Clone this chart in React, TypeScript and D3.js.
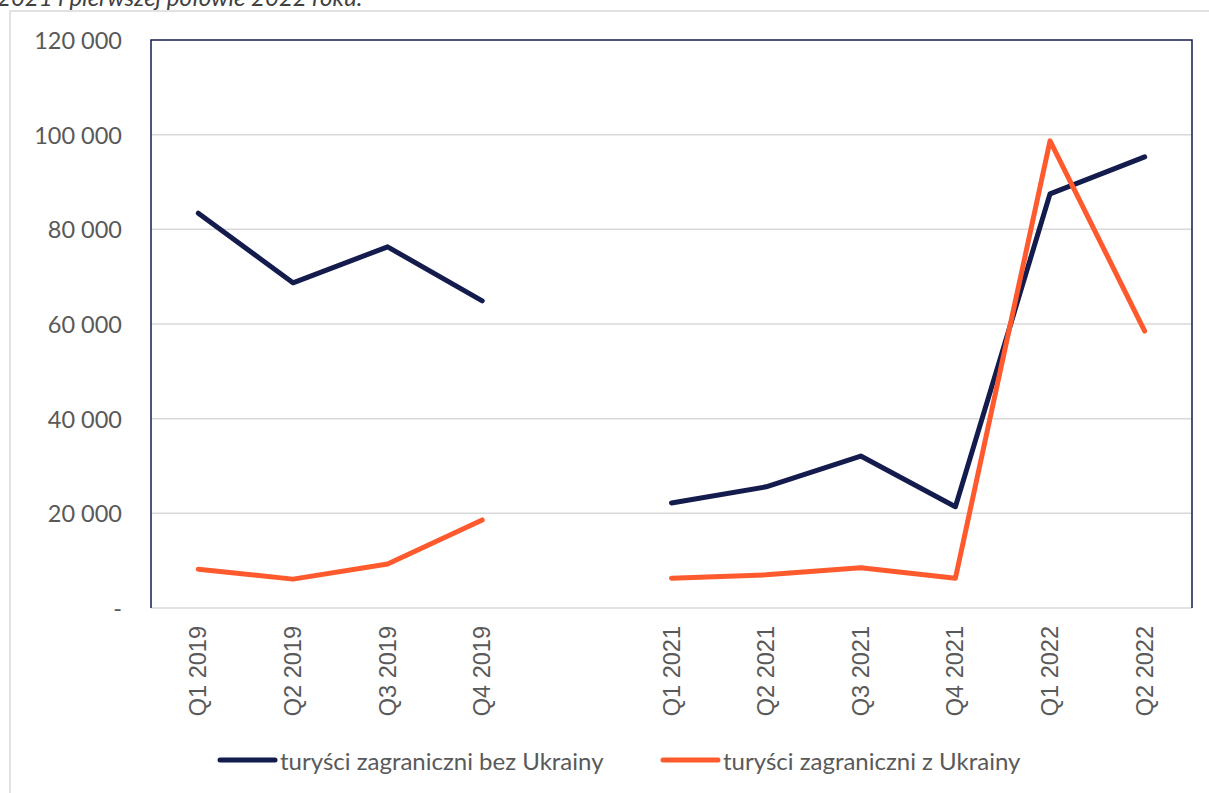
import * as d3 from 'd3';

const categories = [
  'Q1 2019', 'Q2 2019', 'Q3 2019', 'Q4 2019', '',
  'Q1 2021', 'Q2 2021', 'Q3 2021', 'Q4 2021', 'Q1 2022', 'Q2 2022',
];

// null = no data (gap in the line)
const bezUkrainy: (number | null)[] = [
  83400, 68700, 76300, 64900, null,
  22200, 25600, 32100, 21400, 87500, 95300,
];
const zUkrainy: (number | null)[] = [
  8200, 6100, 9300, 18600, null,
  6300, 7000, 8500, 6300, 98700, 58500,
];

const yTicks = [0, 20000, 40000, 60000, 80000, 100000, 120000];

const seriesNames = ['turyści zagraniczni bez Ukrainy', 'turyści zagraniczni z Ukrainy'];
const NAVY = '#141b4d';
const ORANGE = '#ff5a2d';

const fmt = (v: number) => (v === 0 ? '-' : d3.format(',')(v).replace(/,/g, ' '));

export default function App() {
  const width = 1209;
  const height = 793;
  const margin = { left: 151, right: 1192, top: 40, bottom: 608 };

  const x = d3
    .scaleBand()
    .domain(categories.map((c, i) => String(i)))
    .range([margin.left, margin.right]);
  const y = d3.scaleLinear().domain([0, 120000]).range([margin.bottom, margin.top]);

  const line = d3
    .line<number | null>()
    .defined((d) => d !== null)
    .x((_, i) => (x(String(i)) ?? 0) + x.bandwidth() / 2)
    .y((d) => y(d as number));

  const series = [
    { name: seriesNames[0], data: bezUkrainy, color: NAVY },
    { name: seriesNames[1], data: zUkrainy, color: ORANGE },
  ];

  const legendX = [220, 663];

  return (
    <div style={{ position: 'absolute', left: 0, top: 0 }}>
      <svg width={width} height={height} style={{ display: 'block', background: '#fff' }}>
        {/* caption cut off at top, as in the source */}
        <text
          x={-3}
          y={6}
          fontFamily='Lato'
          fontStyle='italic'
          fontSize={24}
          fill='#404040'
        >
          2021 i pierwszej połowie 2022 roku.
        </text>

        {/* outer chart frame */}
        <path d={`M10,${height + 5} V11 H${width + 5}`} fill='none' stroke='#d9d9d9' strokeWidth={1.5} />

        {/* gridlines */}
        {yTicks.slice(1, -1).map((t) => (
          <line key={t} x1={margin.left} x2={margin.right} y1={y(t)} y2={y(t)} stroke='#d9d9d9' strokeWidth={1.5} />
        ))}

        {/* plot frame: navy top/right/left, gray bottom */}
        <line x1={margin.left} x2={margin.right} y1={y(0)} y2={y(0)} stroke='#d9d9d9' strokeWidth={1.5} />
        <path
          d={`M${margin.left},${y(0)} V${margin.top} H${margin.right} V${y(0)}`}
          fill='none'
          stroke={NAVY}
          strokeWidth={1.5}
        />

        {/* y tick labels */}
        {yTicks.map((t) => (
          <text
            key={t}
            x={122}
            y={y(t)}
            textAnchor='end'
            dominantBaseline='central'
            fontFamily='Lato'
            fontSize={23.5}
            fill='#595959'
          >
            {fmt(t)}
          </text>
        ))}

        {/* x labels */}
        {categories.map((c, i) =>
          c ? (
            <text
              key={c}
              transform={`translate(${(x(String(i)) ?? 0) + x.bandwidth() / 2},626) rotate(-90)`}
              textAnchor='end'
              dominantBaseline='central'
              fontFamily='Liberation Sans, Arial'
              fontSize={23.5}
              fill='#595959'
            >
              {c}
            </text>
          ) : null,
        )}

        {/* series lines */}
        {series.map((s) => (
          <path
            key={s.name}
            d={line(s.data) ?? ''}
            fill='none'
            stroke={s.color}
            strokeWidth={5}
            strokeLinejoin='round'
            strokeLinecap='round'
          />
        ))}

        {/* legend */}
        {series.map((s, i) => (
          <g key={s.name} transform={`translate(${legendX[i]},760)`}>
            <line x1={0} x2={55} y1={0} y2={0} stroke={s.color} strokeWidth={5} strokeLinecap='round' />
            <text x={60} y={0} dominantBaseline='central' fontFamily='Lato' fontSize={24} fill='#595959'>
              {s.name}
            </text>
          </g>
        ))}
      </svg>
    </div>
  );
}
